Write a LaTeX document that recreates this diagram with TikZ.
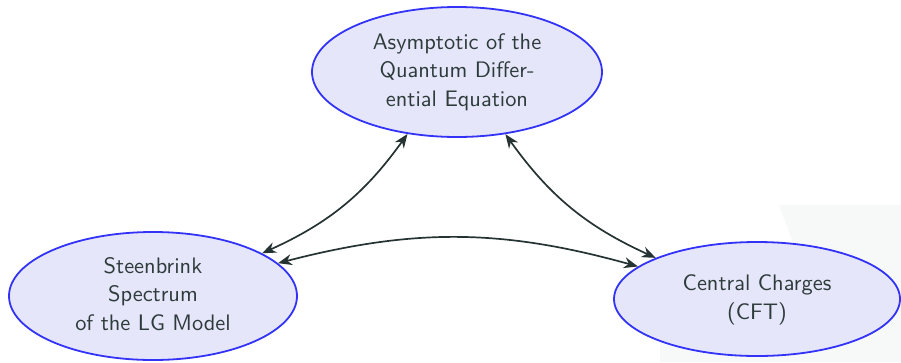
\documentclass[tikz,border=0pt]{standalone}
\usetikzlibrary{shapes.geometric,arrows.meta}
\definecolor{edgeblue}{HTML}{3333F8}
\definecolor{fillblue}{HTML}{E6E6FA}
\definecolor{txtgray}{HTML}{2E3B3B}
\definecolor{arrgray}{HTML}{263333}
\definecolor{bggray}{HTML}{F7F8F8}
\newcommand{\bigtext}[1]{\scalebox{2.24}{\fontsize{10}{12.8}\selectfont\begin{tabular}{@{}c@{}}#1\end{tabular}}}
\tikzset{
  topic/.style={ellipse, draw=edgeblue, fill=fillblue, line width=1.8pt,
    text=txtgray, align=center, inner sep=0pt, font=\sffamily},
  link/.style={arrgray, line width=1.7pt,
    {Stealth[length=14pt,width=11pt,inset=4.5pt]}-{Stealth[length=14pt,width=11pt,inset=4.5pt]}}
}
\begin{document}
\begin{tikzpicture}[x=1pt,y=-1pt]
\useasboundingbox (0,0) rectangle (901,362);
\fill[bggray] (779,205) -- (901,205) -- (901,362) -- (660,362) -- (660,340) -- (800,262) -- cycle;
\node[topic, minimum width=290pt, minimum height=130pt] (qde) at (457,72)
  {\bigtext{Asymptotic of the\\Quantum Differ-\\ential Equation}};
\node[topic, minimum width=288pt, minimum height=128pt] (lg) at (153,296)
  {\bigtext{Steenbrink\\Spectrum\\of the LG Model}};
\node[topic, minimum width=286pt, minimum height=114pt] (cft) at (757,299)
  {\bigtext{Central Charges\\(CFT)}};
\draw[link] (lg) to[bend right=15] (qde);
\draw[link] (qde) to[bend right=15] (cft);
\draw[link] (lg) to[bend left=15] (cft);
\end{tikzpicture}
\end{document}
